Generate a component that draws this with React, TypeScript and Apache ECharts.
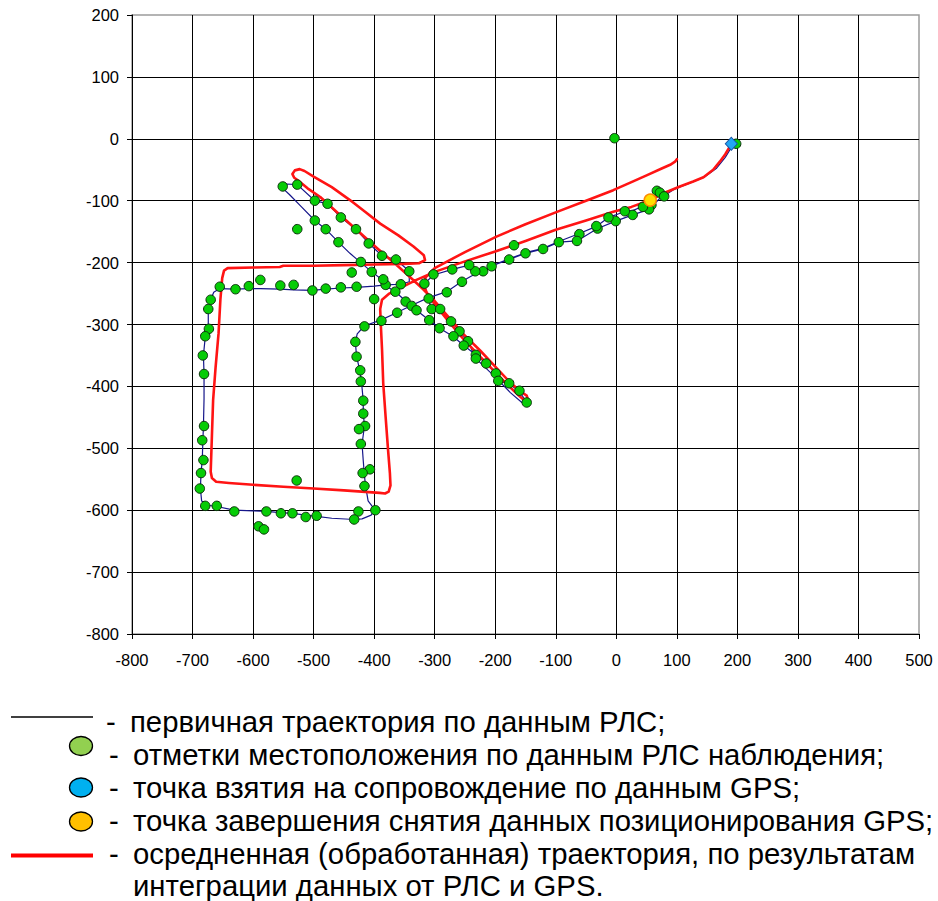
import React, { useEffect, useRef } from "react";
import * as echarts from "echarts";

const FONT = '"Liberation Sans", Arial, Helvetica, sans-serif';

// axis ranges / ticks
const X_MIN = -800;
const X_MAX = 500;
const Y_MIN = -800;
const Y_MAX = 200;
const TICK_STEP = 100;

// green: radar position marks
const radarMarks: [number, number][] = [
  [-3, 1], [198, -8],
  [67, -84], [72, -87], [79, -93], [58, -107], [54, -114], [44, -110], [27, -123], [14, -117],
  [-1, -133], [-13, -127], [-31, -145], [-33, -141], [-61, -154], [-65, -165], [-95, -167],
  [-121, -178], [-150, -185], [-169, -172], [-177, -195], [-206, -206], [-220, -214], [-233, -214],
  [-243, -204], [-271, -211], [-302, -219], [-342, -214], [-255, -231], [-280, -248], [-310, -258],
  [-317, -234], [-356, -235], [-381, -236], [-385, -227], [-365, -247], [-348, -263], [-338, -270],
  [-330, -277], [-305, -275], [-291, -275], [-362, -281], [-388, -294], [-416, -303], [-309, -293],
  [-273, -295], [-292, -306], [-259, -311], [-269, -319], [-245, -327], [-252, -334], [-232, -349],
  [-232, -355], [-215, -363], [-199, -379], [-195, -391], [-177, -395], [-160, -407], [-148, -426],
  [-400, -259], [-404, -215], [-437, -216], [-422, -199],
  [-551, -77], [-527, -74], [-498, -100], [-477, -105], [-455, -127], [-430, -146], [-409, -169],
  [-387, -189], [-364, -195], [-498, -132], [-480, -146], [-459, -167], [-527, -146],
  [-655, -239], [-629, -243], [-607, -238], [-588, -228], [-555, -237], [-533, -236], [-502, -245],
  [-480, -242], [-455, -240], [-429, -239],
  [-670, -260], [-674, -275], [-673, -307], [-679, -319], [-683, -350], [-681, -380], [-681, -464],
  [-684, -487], [-682, -519], [-686, -540], [-688, -565], [-679, -593], [-660, -593],
  [-631, -602], [-578, -602], [-591, -626], [-582, -631], [-554, -605], [-535, -605], [-513, -611],
  [-495, -609], [-528, -552], [-426, -602], [-433, -615], [-398, -600],
  [-431, -328], [-429, -352], [-423, -374], [-422, -392], [-418, -423], [-418, -444], [-415, -464],
  [-425, -469], [-422, -493], [-407, -534], [-419, -540], [-416, -561],
];

// navy: primary radar trajectory
const primaryTrack: [number, number][] = [
  [197, -8], [190, -14], [180, -30], [165, -48], [145, -62], [120, -72], [95, -82], [79, -92],
  [67, -86], [55, -101], [44, -109], [27, -116], [14, -117], [-1, -123], [-13, -127], [-32, -141],
  [-61, -153], [-95, -166], [-121, -177], [-150, -184], [-177, -194], [-206, -205], [-220, -212],
  [-240, -222], [-256, -231], [-280, -247], [-311, -257], [-336, -268], [-363, -281], [-389, -293],
  [-416, -302], [-428, -315], [-431, -329], [-429, -352], [-424, -373], [-421, -392], [-418, -423],
  [-418, -443], [-416, -464], [-420, -493], [-418, -520], [-416, -545], [-414, -562], [-410, -585],
  [-400, -598], [-405, -608], [-420, -614], [-433, -615], [-470, -613], [-495, -610], [-513, -608],
  [-535, -605], [-555, -604], [-578, -602], [-600, -601], [-631, -600], [-660, -594], [-675, -592],
  [-685, -585], [-687, -565], [-686, -540], [-684, -520], [-683, -490], [-682, -464], [-681, -420],
  [-681, -380], [-682, -350], [-679, -320], [-674, -307], [-674, -276], [-670, -260], [-665, -248],
  [-655, -242], [-630, -243], [-607, -242], [-588, -242], [-555, -243], [-533, -244], [-502, -245],
  [-480, -243], [-455, -241], [-429, -240], [-400, -238], [-381, -236], [-356, -235], [-342, -231],
  [-342, -214], [-364, -195], [-387, -189], [-409, -169], [-430, -146], [-455, -127], [-477, -105],
  [-498, -100], [-527, -74], [-545, -73], [-553, -78], [-540, -90], [-520, -110], [-498, -132],
  [-480, -146], [-459, -167], [-440, -185], [-422, -200], [-404, -215], [-386, -228], [-380, -238],
  [-365, -247], [-348, -262], [-337, -270], [-330, -277], [-309, -293], [-292, -306], [-270, -319],
  [-252, -334], [-232, -349], [-215, -363], [-199, -379], [-195, -391], [-177, -396], [-160, -408],
  [-148, -426], [-156, -426], [-175, -410], [-200, -385], [-218, -368], [-232, -355], [-245, -327],
  [-259, -311], [-273, -295], [-291, -276], [-305, -275], [-311, -258], [-317, -234], [-302, -220],
  [-271, -211], [-243, -204], [-233, -214], [-220, -214], [-205, -205], [-177, -195], [-150, -185],
  [-121, -178], [-95, -167], [-65, -165], [-31, -145], [-1, -133], [27, -123], [54, -114], [72, -96],
  [79, -93],
];

// red: averaged (processed) trajectory
const averagedTrack: [number, number][] = [
  [190, -8], [186, -15], [180, -25], [171, -37], [160, -50], [144, -62], [127, -69], [105, -77],
  [78, -88], [56, -99], [25, -110], [-5, -118], [-50, -132], [-100, -147], [-150, -165], [-200, -182],
  [-250, -198], [-300, -215], [-330, -228], [-355, -240], [-375, -250], [-387, -260], [-390, -275],
  [-389, -300], [-387, -340], [-385, -395], [-381, -450], [-377, -503], [-374, -540], [-373, -560],
  [-376, -570], [-382, -573], [-391, -572], [-450, -568], [-500, -565], [-550, -562], [-600, -559],
  [-640, -556], [-661, -554], [-668, -548], [-670, -538], [-668, -480], [-666, -422], [-662, -370],
  [-657, -314], [-654, -260], [-651, -225], [-648, -213], [-642, -209], [-600, -208], [-556, -207],
  [-550, -205], [-500, -205], [-450, -204], [-400, -203], [-350, -202], [-326, -201], [-316, -196],
  [-318, -188], [-335, -174], [-360, -156], [-390, -137], [-415, -118], [-440, -99], [-470, -78],
  [-500, -61], [-515, -52], [-523, -49], [-531, -51], [-535, -57], [-532, -63], [-526, -67],
  [-510, -80], [-489, -94], [-460, -120], [-429, -147], [-396, -176], [-363, -204], [-340, -224],
  [-319, -243], [-300, -262], [-280, -285], [-252, -316], [-225, -342], [-200, -368], [-175, -394],
  [-157, -409], [-148, -415], [-146, -421], [-151, -423], [-162, -414], [-180, -397], [-202, -375],
  [-227, -350], [-252, -324], [-277, -295], [-296, -272], [-311, -253], [-318, -238], [-315, -224],
  [-300, -209], [-250, -183], [-198, -158], [-150, -138], [-98, -118], [-50, -100], [-5, -83],
  [25, -70], [50, -59], [75, -48], [89, -42], [97, -37], [100, -33],
];

const gpsStart: [number, number][] = [[190, -8]];
const gpsEnd: [number, number][] = [[56, -99]];

const legendTexts = [
  "первичная траектория по данным РЛС;",
  "отметки местоположения по данным РЛС наблюдения;",
  "точка взятия на сопровождение по данным GPS;",
  "точка завершения снятия данных позиционирования GPS;",
  "осредненная (обработанная) траектория, по результатам",
  "интеграции данных от РЛС и GPS.",
];

function buildLegend() {
  const rowY = [721, 754.2, 787.4, 820.6, 853.6, 885.5];
  const font = `29.3px ${FONT}`;
  const els: any[] = [];
  els.push({ type: "line", shape: { x1: 11, y1: 717, x2: 93, y2: 717 }, style: { stroke: "#000", lineWidth: 1.5 } });
  els.push({ type: "ellipse", shape: { cx: 81, cy: 746, rx: 11.5, ry: 9.5 }, style: { fill: "#92d050", stroke: "#000", lineWidth: 1.3 } });
  els.push({ type: "ellipse", shape: { cx: 81, cy: 787.5, rx: 11.5, ry: 9.5 }, style: { fill: "#00b0f0", stroke: "#000", lineWidth: 1.3 } });
  els.push({ type: "ellipse", shape: { cx: 81, cy: 821.5, rx: 11.5, ry: 9.5 }, style: { fill: "#ffc000", stroke: "#000", lineWidth: 1.3 } });
  els.push({ type: "line", shape: { x1: 11, y1: 855.5, x2: 93, y2: 855.5 }, style: { stroke: "#ff0000", lineWidth: 4 } });
  legendTexts.forEach((t, i) => {
    const tx = i === 0 ? 130 : 133;
    if (i < 5) {
      els.push({
        type: "text",
        x: i === 0 ? 106 : 109,
        y: rowY[i],
        style: { text: "-", fill: "#000", font, align: "left", verticalAlign: "middle", textAlign: "left", textVerticalAlign: "middle" },
      });
    }
    els.push({
      type: "text",
      x: tx,
      y: rowY[i],
      style: { text: t, fill: "#000", font, align: "left", verticalAlign: "middle", textAlign: "left", textVerticalAlign: "middle" },
    });
  });
  return els;
}

export default function App() {
  const ref = useRef<HTMLDivElement>(null);
  useEffect(() => {
    const chart = echarts.init(ref.current as HTMLDivElement, null, { renderer: "svg" });
    const axisCommon = {
      type: "value",
      interval: TICK_STEP,
      axisLine: { show: true, onZero: false, lineStyle: { color: "#000", width: 1 } },
      axisTick: { show: true, inside: false, length: 5, lineStyle: { color: "#000", width: 1 } },
      splitLine: { show: true, showMaxLine: false, lineStyle: { color: "#000", width: 1 } },
    };
    chart.setOption({
      animation: false,
      backgroundColor: "#fff",
      textStyle: { fontFamily: FONT },
      grid: { left: 132, right: 19, top: 15, bottom: 267, show: true, borderColor: "#9c9c9c", borderWidth: 1.5, backgroundColor: "transparent" },
      xAxis: {
        ...axisCommon,
        min: X_MIN,
        max: X_MAX,
        axisLabel: { color: "#000", fontSize: 16.5, fontFamily: FONT, margin: 17 },
      },
      yAxis: {
        ...axisCommon,
        min: Y_MIN,
        max: Y_MAX,
        axisLabel: { color: "#000", fontSize: 16.5, fontFamily: FONT, margin: 13 },
      },
      series: [
        {
          name: "primary",
          type: "line",
          data: primaryTrack,
          showSymbol: false,
          symbol: "none",
          z: 2,
          lineStyle: { color: "#16168a", width: 1.2 },
        },
        {
          name: "averaged",
          type: "line",
          data: averagedTrack,
          showSymbol: false,
          symbol: "none",
          z: 3,
          lineStyle: { color: "#ff1414", width: 2.6, join: "round", cap: "round" },
        },
        {
          name: "marks",
          type: "scatter",
          data: radarMarks,
          symbol: "circle",
          symbolSize: 9.5,
          z: 4,
          itemStyle: { color: "#06cc06", borderColor: "#0d330d", borderWidth: 1, opacity: 1 },
        },
        {
          name: "gpsStart",
          type: "scatter",
          data: gpsStart,
          symbol: "diamond",
          symbolSize: [12, 13],
          z: 5,
          itemStyle: { color: "#22a6f2", borderColor: "#1450a0", borderWidth: 1, opacity: 1 },
        },
        {
          name: "gpsEnd",
          type: "scatter",
          data: gpsEnd,
          symbol: "circle",
          symbolSize: 12,
          z: 6,
          itemStyle: { color: "#ffe000", borderColor: "#ff8c00", borderWidth: 1.5, opacity: 1 },
        },
      ],
      graphic: buildLegend(),
    });
    return () => chart.dispose();
  }, []);
  return (
    <div
      ref={ref}
      style={{ position: "absolute", left: 0, top: 0, width: 938, height: 901, background: "#fff" }}
    />
  );
}
